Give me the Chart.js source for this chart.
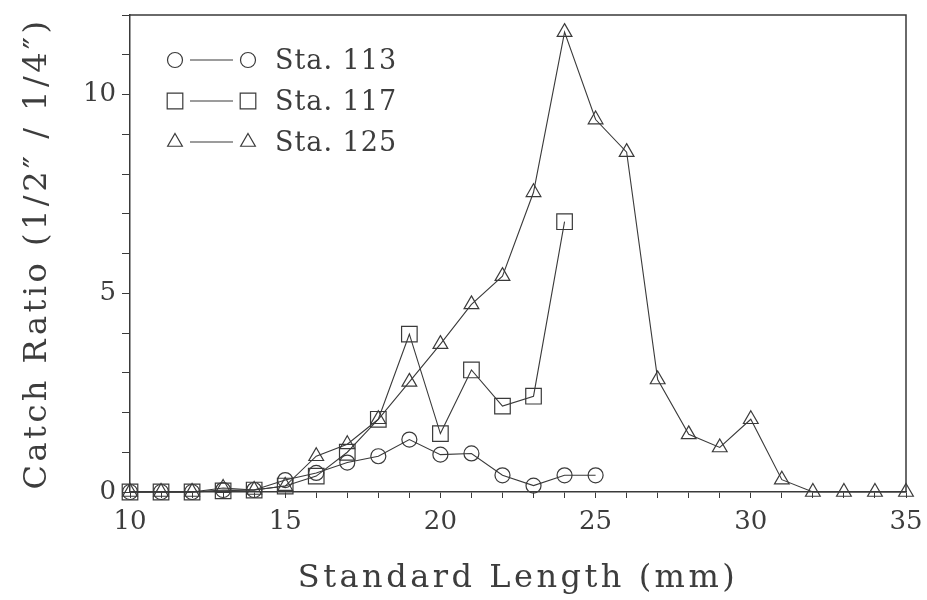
<!DOCTYPE html>
<html>
<head>
<meta charset="utf-8">
<script src="https://cdn.jsdelivr.net/npm/chart.js@4/dist/chart.umd.min.js"></script>
<style>
  html, body { margin: 0; padding: 0; background: #fff; }
  #wrap { width: 927px; height: 600px; }
</style>
</head>
<body>
<div id="wrap"><canvas id="catchChart" width="927" height="600"></canvas></div>
<script>
// standard length (mm)
const lengths = [10, 11, 12, 13, 14, 15, 16, 17, 18, 19, 20, 21, 22, 23, 24, 25, 26, 27, 28, 29, 30, 31, 32, 33, 34, 35];

// catch ratio per station
const sta113 = [0, 0, 0, 0.05, 0.05, 0.3, 0.48, 0.74, 0.9, 1.32, 0.94, 0.97, 0.42, 0.16, 0.42, 0.42];
const sta117 = [0, 0, 0, 0.03, 0.05, 0.15, 0.4, 1.0, 1.83, 3.97, 1.47, 3.07, 2.16, 2.41, 6.8];
const sta125 = [0, 0, 0, 0.1, 0.05, 0.15, 0.9, 1.2, 1.83, 2.77, 3.72, 4.72, 5.43, 7.54, 11.57, 9.37, 8.55, 2.83, 1.45, 1.12, 1.83, 0.31, 0, 0, 0, 0];

const xTickLabels = [10, 15, 20, 25, 30, 35];
const yTickLabels = [0, 5, 10];
const seriesNames = ['Sta. 113', 'Sta. 117', 'Sta. 125'];

const ink = '#3a3a3a';
const txt = '#3d3d3d';
const serif = "'DejaVu Serif', 'Liberation Serif', serif";

function pts(vals){
    return vals.map((v, i) => ({ x: lengths[i], y: v }));
}

function marker(ctx, style, x, y){
    ctx.beginPath();
    if(style === 'circle'){
        ctx.arc(x, y, 7.5, 0, Math.PI * 2);
    }
    else if(style === 'rect'){
        ctx.rect(x - 7.8, y - 7.8, 15.6, 15.6);
    }
    else{
        const r = 8.5;
        ctx.moveTo(x, y - r);
        ctx.lineTo(x + r * 0.866, y + r * 0.5);
        ctx.lineTo(x - r * 0.866, y + r * 0.5);
        ctx.closePath();
    }
    ctx.stroke();
}

// the original axis titles are set wide, so spread their letters
// (letterSpacing is reset by hand, save/restore does not always undo it)
const spacedTitles = {
    id: 'spacedTitles',
    afterLayout(chart){
        Object.values(chart.scales).forEach(s => {
            if(s._spaced) return;
            const orig = s.drawTitle.bind(s);
            s.drawTitle = function(){
                this.ctx.letterSpacing = '3.5px';
                orig();
                this.ctx.letterSpacing = '0px';
            };
            s._spaced = true;
        });
    }
};

// box around plot + the marker-line-marker legend
const framePlugin = {
    id: 'frame',
    afterDraw(chart){
        const ctx = chart.ctx;
        const a = chart.chartArea;
        ctx.save();
        ctx.strokeStyle = ink;
        ctx.lineWidth = 1.5;
        ctx.beginPath();
        ctx.moveTo(a.left, a.top);
        ctx.lineTo(a.right, a.top);
        ctx.lineTo(a.right, a.bottom);
        ctx.stroke();

        const styles = ['circle', 'rect', 'triangle'];
        const rows = [60, 101, 142];
        ctx.lineWidth = 1.2;
        ctx.font = '27px ' + serif;
        ctx.letterSpacing = '1px';
        ctx.fillStyle = txt;
        ctx.textBaseline = 'middle';
        ctx.textAlign = 'left';
        for(let i = 0; i < 3; i++){
            const y = rows[i];
            marker(ctx, styles[i], 175, y);
            ctx.beginPath();
            ctx.moveTo(190, y);
            ctx.lineTo(233, y);
            ctx.stroke();
            marker(ctx, styles[i], 248, y);
            ctx.fillText(seriesNames[i], 275, y + 2);
        }
        ctx.letterSpacing = '0px';
        ctx.restore();
    }
};

const baseSet = {
    borderColor: ink,
    borderWidth: 1.1,
    pointBorderColor: ink,
    pointBackgroundColor: 'rgba(0,0,0,0)',
    pointBorderWidth: 1.2,
    tension: 0,
    clip: false
};

const data = {
    datasets: [
        Object.assign({ label: seriesNames[0], data: pts(sta113), pointStyle: 'circle', pointRadius: 7.5 }, baseSet),
        Object.assign({ label: seriesNames[1], data: pts(sta117), pointStyle: 'rect', pointRadius: 11 }, baseSet),
        Object.assign({ label: seriesNames[2], data: pts(sta125), pointStyle: 'triangle', pointRadius: 8.5 }, baseSet)
    ]
};

const config = {
    type: 'line',
    data,
    options: {
        responsive: false,
        animation: false,
        events: [],
        layout: { padding: { top: 15, right: 21, bottom: 0, left: 0 } },
        plugins: {
            legend: { display: false },
            tooltip: { enabled: false }
        },
        scales: {
            x: {
                type: 'linear',
                min: 10,
                max: 35,
                afterFit: (s) => {
                    s.height = 108;
                    s.paddingLeft = 0;
                    s.paddingRight = 0;
                },
                afterBuildTicks: (s) => {
                    s.ticks = lengths.map(v => ({ value: v }));
                },
                border: { color: ink, width: 1.5 },
                grid: { drawOnChartArea: false, drawTicks: true, tickLength: 6, color: ink, lineWidth: 1 },
                ticks: {
                    autoSkip: false,
                    maxRotation: 0,
                    padding: 9,
                    color: txt,
                    font: { family: serif, size: 26 },
                    callback: (v) => xTickLabels.includes(v) ? String(v) : ''
                },
                title: {
                    display: true,
                    text: 'Standard Length (mm)',
                    color: txt,
                    font: { family: serif, size: 32 },
                    padding: { top: 0, bottom: 2 }
                }
            },
            y: {
                type: 'linear',
                min: 0,
                max: 12,
                afterFit: (s) => {
                    s.width = 130;
                    s.paddingTop = 0;
                    s.paddingBottom = 0;
                },
                border: { color: ink, width: 1.5 },
                grid: { drawOnChartArea: false, drawTicks: true, tickLength: 8, color: ink, lineWidth: 1 },
                ticks: {
                    stepSize: 1,
                    autoSkip: false,
                    padding: 6,
                    color: txt,
                    font: { family: serif, size: 26 },
                    callback: (v) => yTickLabels.includes(v) ? String(v) : ''
                },
                title: {
                    display: true,
                    text: 'Catch Ratio (1/2\u2033 / 1/4\u2033)',
                    color: txt,
                    font: { family: serif, size: 32 },
                    padding: { top: 18, bottom: 0 }
                }
            }
        }
    },
    plugins: [spacedTitles, framePlugin]
};

const myChart = new Chart(document.getElementById('catchChart'), config);
</script>
</body>
</html>
